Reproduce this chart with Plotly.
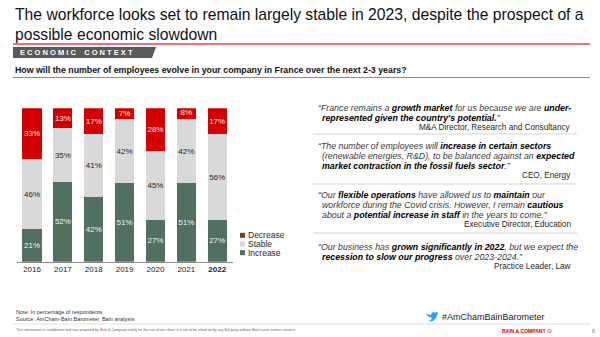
import plotly.graph_objects as go

years = ["2016", "2017", "2018", "2019", "2020", "2021", "2022"]
year_labels = ["2016", "2017", "2018", "2019", "2020", "2021", "<b>2022</b>"]
increase = [21, 52, 42, 51, 27, 51, 27]
stable = [46, 35, 41, 42, 45, 42, 56]
decrease = [33, 13, 17, 7, 28, 8, 17]

series_names = ["Increase", "Stable", "Decrease"]
series_values = [increase, stable, decrease]
series_colors = ["#52705f", "#d9d9d9", "#d20000"]
label_colors = ["#eef4f0", "#262626", "#fbecec"]

W, H = 600, 337
def px(x):
    return x / W
def py(y):
    return 1 - y / H

fig = go.Figure()
for name, vals, col, lc in zip(series_names, series_values, series_colors, label_colors):
    fig.add_trace(go.Bar(
        x=years, y=vals, name=name, marker=dict(color=col, line=dict(width=0)),
        text=[f"{v}%" for v in vals], textposition="inside", insidetextanchor="middle", textangle=0,
        textfont=dict(family="Arial", size=8, color=lc), constraintext="none",
        showlegend=False, hoverinfo="skip",
    ))

shapes = []
annotations = []

# Title
annotations.append(dict(xref="paper", yref="paper", x=px(13), y=py(24), xanchor="left", yanchor="middle",
                        text="The workforce looks set to remain largely stable in 2023, despite the prospect of a<br>possible economic slowdown",
                        align="left", showarrow=False, font=dict(family="Arial", size=15.7, color="#111111")))
# red rule
shapes.append(dict(type="line", xref="paper", yref="paper", x0=px(13), x1=px(590), y0=py(44), y1=py(44),
                   line=dict(color="#d9484f", width=1.5)))
# banner
shapes.append(dict(type="path", xref="paper", yref="paper",
                   path=f"M {px(13)},{py(47)} L {px(156)},{py(47)} L {px(152)},{py(58)} L {px(13)},{py(58)} Z",
                   fillcolor="#5a5a5a", line=dict(width=0)))
NB = "\u00a0"
banner_text = NB.join("ECONOMIC") + NB * 4 + NB.join("CONTEXT")
annotations.append(dict(xref="paper", yref="paper", x=px(18), y=py(52.5), xanchor="left", yanchor="middle",
                        text="<b>" + banner_text + "</b>", showarrow=False,
                        font=dict(family="Arial", size=7.5, color="white")))
# question
annotations.append(dict(xref="paper", yref="paper", x=px(13), y=py(70), xanchor="left", yanchor="middle",
                        text="<b>How will the number of employees evolve in your company in France over the next 2-3 years?</b>",
                        showarrow=False, font=dict(family="Arial", size=8.8, color="#111111")))
shapes.append(dict(type="line", xref="paper", yref="paper", x0=px(13), x1=px(590), y0=py(77.5), y1=py(77.5),
                   line=dict(color="#8c8c8c", width=1)))

# legend (manual)
leg_items = [("Decrease", "#8a3a12", 235.3), ("Stable", "#d9d9d9", 244), ("Increase", "#52705f", 252.7)]
for name, col, yy in leg_items:
    shapes.append(dict(type="rect", xref="paper", yref="paper", x0=px(240), x1=px(245), y0=py(yy - 2.5), y1=py(yy + 2.5),
                       fillcolor=col, line=dict(width=0)))
    annotations.append(dict(xref="paper", yref="paper", x=px(246), y=py(yy), xanchor="left", yanchor="middle",
                            text=name, showarrow=False, font=dict(family="Arial", size=8.5, color="#262626")))

# quotes
B = "<b><span style='color:#000000'>%s</span></b>"
quotes = [
    ([("“France remains a " + B % "growth market" + " for us because we are " + B % "under-", 316, 108),
      (B % "represented given the country's potential." + "”", 320, 118)],
     "M&amp;A Director, Research and Consultancy", 127),
    ([("“The number of employees will " + B % "increase in certain sectors", 316, 146),
      ("(renewable energies, R&amp;D), to be balanced against an " + B % "expected", 320, 156),
      (B % "market contraction in the fossil fuels sector" + ".”", 320, 166)],
     "CEO, Energy", 175),
    ([("“Our " + B % "flexible operations" + " have allowed us to " + B % "maintain" + " our", 316, 195),
      ("workforce during the Covid crisis. However, I remain " + B % "cautious", 320, 205),
      ("about a " + B % "potential increase in staff" + " in the years to come.”", 320, 215)],
     "Executive Director, Education", 224),
    ([("“Our business has " + B % "grown significantly in 2022" + ", but we expect the", 316, 247),
      (B % "recession to slow our progress" + " over 2023-2024.”", 320, 257)],
     "Practice Leader, Law", 266),
]
for lines, attr, ay in quotes:
    for txt, xx, yy in lines:
        annotations.append(dict(xref="paper", yref="paper", x=px(xx), y=py(yy), xanchor="left", yanchor="middle",
                                text="<i>" + txt + "</i>", showarrow=False,
                                font=dict(family="Arial", size=8.8, color="#3a3a3a")))
    annotations.append(dict(xref="paper", yref="paper", x=px(573), y=py(ay), xanchor="right", yanchor="middle",
                            text=attr, showarrow=False, font=dict(family="Arial", size=8.2, color="#262626")))
for yy in [134, 184, 233]:
    shapes.append(dict(type="line", xref="paper", yref="paper", x0=px(313), x1=px(577), y0=py(yy), y1=py(yy),
                       line=dict(color="#e3e3e3", width=1.5)))

# footer
annotations.append(dict(xref="paper", yref="paper", x=px(14), y=py(315.5), xanchor="left", yanchor="middle",
                        text="Note: In percentage of respondents<br>Source: AmCham-Bain Barometer, Bain analysis",
                        align="left", showarrow=False, font=dict(family="Arial", size=5.5, color="#333333")))
shapes.append(dict(type="line", xref="paper", yref="paper", x0=px(13), x1=px(590), y0=py(324), y1=py(324),
                   line=dict(color="#e0e0e0", width=1)))
annotations.append(dict(xref="paper", yref="paper", x=px(14), y=py(330), xanchor="left", yanchor="middle",
                        text="This information is confidential and was prepared by Bain &amp; Company solely for the use of our client; it is not to be relied on by any 3rd party without Bain's prior written consent.",
                        showarrow=False, font=dict(family="Arial", size=3.6, color="#666666")))
# twitter bird approximation
shapes.append(dict(type="path", xref="paper", yref="paper",
                   path=f"M {px(426)},{py(313)} Q {px(428)},{py(318)} {px(431)},{py(317)} Q {px(433)},{py(320)} {px(428)},{py(321)} "
                        f"Q {px(434)},{py(323)} {px(437)},{py(316)} L {px(438)},{py(312)} L {px(435)},{py(312.5)} "
                        f"Q {px(432)},{py(311)} {px(431)},{py(315)} Q {px(428)},{py(315)} {px(426)},{py(313)} Z",
                   fillcolor="#2aa3ef", line=dict(width=0)))
annotations.append(dict(xref="paper", yref="paper", x=px(440), y=py(316.5), xanchor="left", yanchor="middle",
                        text="#AmChamBainBarometer", showarrow=False,
                        font=dict(family="Arial", size=9, color="#222222")))
annotations.append(dict(xref="paper", yref="paper", x=px(500), y=py(330.5), xanchor="left", yanchor="middle",
                        text="<b>BAIN &amp; COMPANY</b>", showarrow=False,
                        font=dict(family="Arial", size=5, color="#cc0000")))
annotations.append(dict(xref="paper", yref="paper", x=px(545), y=py(330.5), xanchor="left", yanchor="middle",
                        text="⊙", showarrow=False, font=dict(family="DejaVu Sans", size=6, color="#cc0000")))
annotations.append(dict(xref="paper", yref="paper", x=px(593), y=py(330.5), xanchor="center", yanchor="middle",
                        text="8", showarrow=False, font=dict(family="Arial", size=5, color="#777777")))

fig.update_layout(
    width=W, height=H, margin=dict(l=0, r=0, t=0, b=0),
    barmode="stack", bargap=0.38,
    paper_bgcolor="white", plot_bgcolor="white",
    xaxis=dict(domain=[px(16.6), px(232.6)], tickmode="array", tickvals=years, ticktext=year_labels,
               showline=True, linecolor="#8c8c8c", linewidth=1, showgrid=False, ticks="",
               tickfont=dict(family="Arial", size=8, color="#222222"), fixedrange=True),
    yaxis=dict(domain=[py(261.7), py(108.3)], range=[0, 100], visible=False, fixedrange=True),
    shapes=shapes, annotations=annotations, uniformtext=dict(mode=False),
)

fig.write_html("out.html")
